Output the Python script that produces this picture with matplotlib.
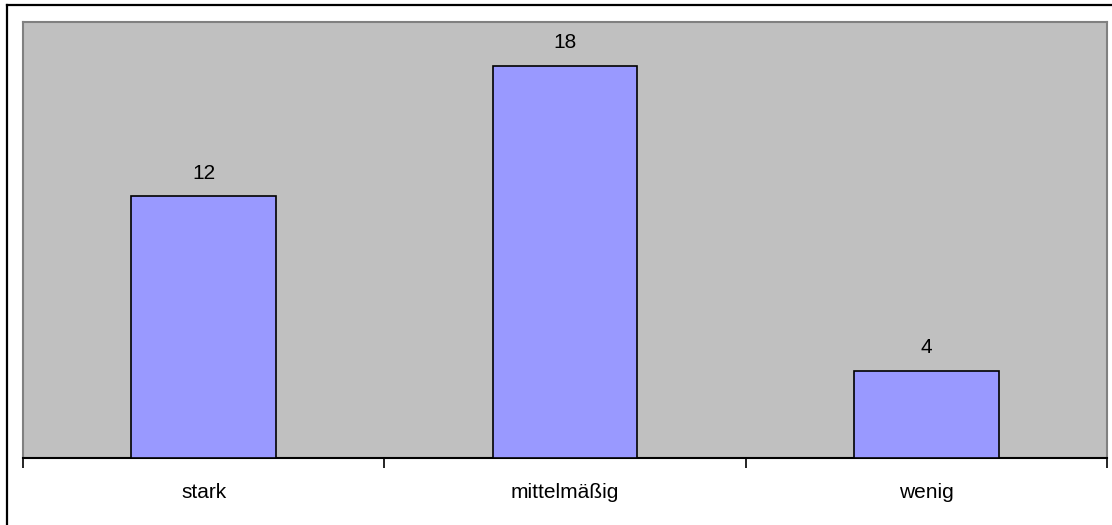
import matplotlib
matplotlib.use("Agg")
import matplotlib.pyplot as plt
import matplotlib.transforms as mtransforms
from matplotlib.lines import Line2D

categories = ["stark", "mittelmäßig", "wenig"]
values = [12, 18, 4]

plt.rcParams["font.family"] = ["Liberation Sans", "DejaVu Sans"]

W, H = 1112, 525
fig = plt.figure(figsize=(W / 100, H / 100), dpi=100)
fig.patch.set_facecolor("white")

# outer chart frame (left and top edges fall inside the image)
fig.add_artist(Line2D([6.5 / W, 6.5 / W], [0, 1 - 5 / H], transform=fig.transFigure,
                      color="black", linewidth=1.6))
fig.add_artist(Line2D([6.5 / W, 1], [1 - 5 / H, 1 - 5 / H], transform=fig.transFigure,
                      color="black", linewidth=1.6))

left, right, top, bottom = 23, 1107, 22, 458
ax = fig.add_axes([left / W, 1 - bottom / H, (right - left) / W, (bottom - top) / H])
ax.set_facecolor("#C0C0C0")

x = list(range(len(categories)))
ax.bar(x, values, width=0.4, color="#9999FF", edgecolor="black", linewidth=1.2, zorder=3)

for xi, v in zip(x, values):
    ax.annotate(str(v), (xi, v), xytext=(0, 12.5), textcoords="offset points",
                ha="center", va="baseline", fontsize=15)

ax.set_xlim(-0.5, len(categories) - 0.5)
ax.set_ylim(0, 20)
ax.set_yticks([])

ax.set_xticks(x)
ax.set_xticklabels([])
ax.tick_params(axis="x", which="major", length=0)
ax.set_xticks([-0.5, 0.5, 1.5, 2.5], minor=True)
ax.tick_params(axis="x", which="minor", length=7, width=1.2, color="black")

label_tr = mtransforms.blended_transform_factory(ax.transData, fig.transFigure)
for xi, name in zip(x, categories):
    ax.text(xi, 1 - 498 / H, name, transform=label_tr, ha="center", va="baseline",
            fontsize=15, clip_on=False)

for side in ("left", "right", "top"):
    ax.spines[side].set_color("#808080")
    ax.spines[side].set_linewidth(1.5)
ax.spines["bottom"].set_color("black")
ax.spines["bottom"].set_linewidth(1.5)

fig.savefig("out.png", dpi=100)
